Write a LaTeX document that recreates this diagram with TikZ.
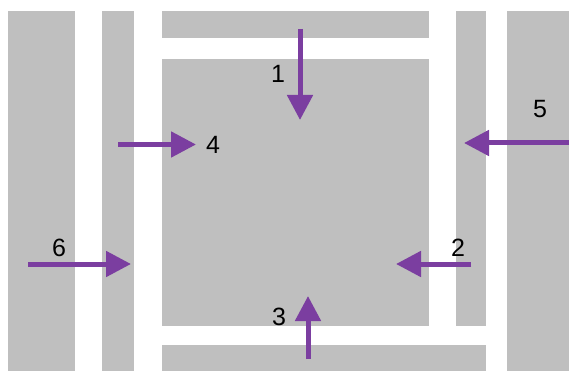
\documentclass[tikz,border=0pt]{standalone}
\usepackage{fontspec}
\setmainfont{Liberation Sans}
\usetikzlibrary{arrows.meta}
\definecolor{blk}{RGB}{191,191,191}
\definecolor{arr}{RGB}{123,62,160}
\begin{document}
\begin{tikzpicture}[x=1pt,y=-1pt,
  blockfill/.style={fill=blk,draw=none},
  flow/.style={draw=arr,line width=5pt,-{Triangle[length=25pt,width=25pt]}},
  num/.style={font=\fontsize{25}{25}\selectfont,inner sep=0pt}]
\useasboundingbox (0,0) rectangle (569,371);
% blocks
\fill[blockfill] (8,11) rectangle (75,371);
\fill[blockfill] (102,11) rectangle (134,371);
\fill[blockfill] (162,11) rectangle (429,38);
\fill[blockfill] (162,59) rectangle (429,326);
\fill[blockfill] (456,11) rectangle (486,326);
\fill[blockfill] (507,11) rectangle (569,371);
\fill[blockfill] (162,345) rectangle (486,371);
% arrow end points
\coordinate (a1s) at (300,29);  \coordinate (a1e) at (300,120);
\coordinate (a2s) at (471,264); \coordinate (a2e) at (396,264);
\coordinate (a3s) at (308,359); \coordinate (a3e) at (308,296);
\coordinate (a4s) at (118,144.5); \coordinate (a4e) at (196,144.5);
\coordinate (a5s) at (569,143); \coordinate (a5e) at (464,143);
\coordinate (a6s) at (28,264);  \coordinate (a6e) at (131,264);
\draw[flow] (a1s) -- (a1e);
\draw[flow] (a2s) -- (a2e);
\draw[flow] (a3s) -- (a3e);
\draw[flow] (a4s) -- (a4e);
\draw[flow] (a5s) -- (a5e);
\draw[flow] (a6s) -- (a6e);
% labels
\node[num] (l1) at (278,74) {1};
\node[num] (l2) at (458,248) {2};
\node[num] (l3) at (279,317) {3};
\node[num] (l4) at (213,145) {4};
\node[num] (l5) at (540,109) {5};
\node[num] (l6) at (59,248) {6};
\end{tikzpicture}
\end{document}
